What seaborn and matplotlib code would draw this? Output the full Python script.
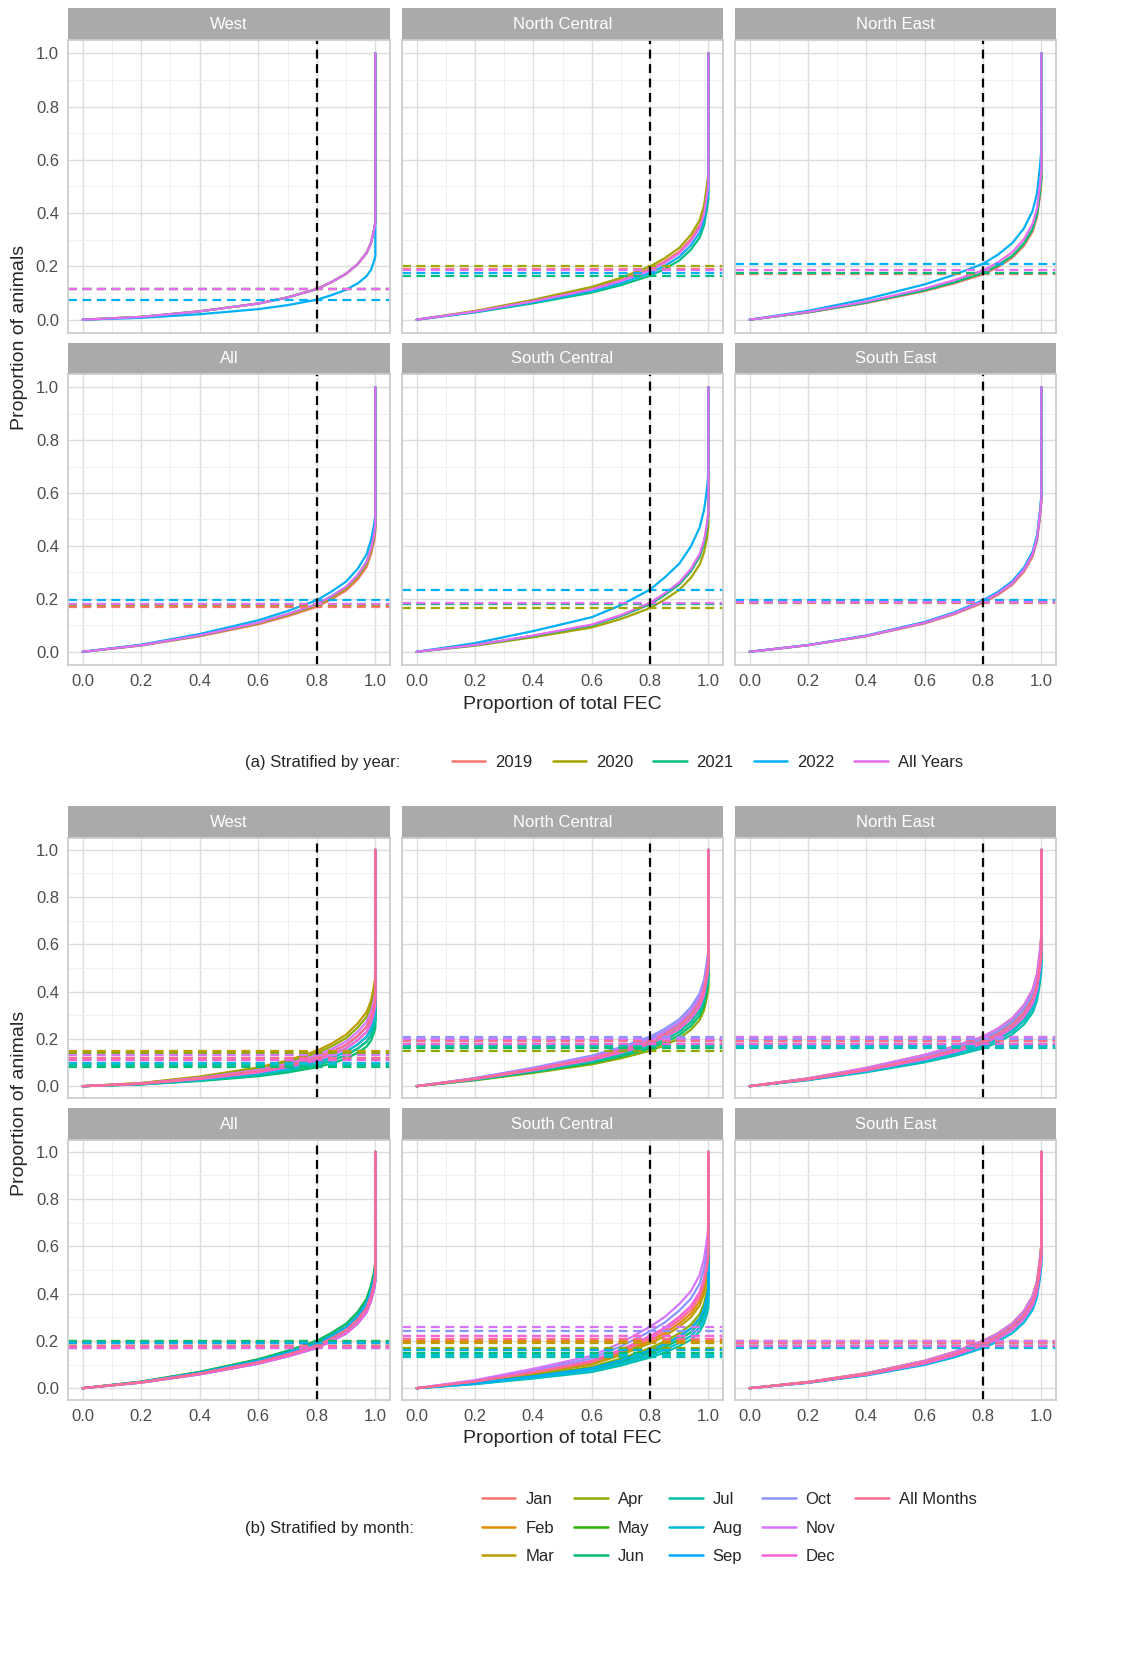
import numpy as np
import pandas as pd
import matplotlib
matplotlib.use("Agg")
import matplotlib.pyplot as plt
import seaborn as sns
from matplotlib.lines import Line2D

sns.set_theme(style="white")
plt.rcParams["font.family"] = ["Liberation Sans", "DejaVu Sans"]

PANELS = ["West", "North Central", "North East", "All", "South Central", "South East"]
X_PTS = [0.0, 0.2, 0.4, 0.6, 0.7, 0.8, 0.85, 0.9, 0.94, 0.97, 0.985, 0.995, 1.0]

# base curves (y at X_PTS), per panel
BASE_YEAR = {
    "West":          [0, 0.010, 0.030, 0.058, 0.080, 0.110, 0.135, 0.165, 0.200, 0.240, 0.275, 0.320, 0.350],
    "North Central": [0, 0.030, 0.068, 0.112, 0.143, 0.182, 0.210, 0.245, 0.290, 0.340, 0.390, 0.460, 0.500],
    "North East":    [0, 0.030, 0.070, 0.120, 0.152, 0.190, 0.220, 0.260, 0.310, 0.370, 0.430, 0.520, 0.580],
    "All":           [0, 0.025, 0.062, 0.110, 0.142, 0.180, 0.210, 0.245, 0.290, 0.340, 0.390, 0.440, 0.480],
    "South Central": [0, 0.025, 0.060, 0.100, 0.135, 0.180, 0.215, 0.255, 0.305, 0.360, 0.410, 0.470, 0.520],
    "South East":    [0, 0.025, 0.060, 0.110, 0.145, 0.190, 0.220, 0.260, 0.310, 0.370, 0.430, 0.520, 0.580],
}
BASE_MONTH = {
    "West":          [0, 0.010, 0.030, 0.058, 0.080, 0.110, 0.132, 0.160, 0.195, 0.230, 0.265, 0.310, 0.340],
    "North Central": [0, 0.030, 0.068, 0.112, 0.143, 0.182, 0.210, 0.245, 0.290, 0.340, 0.390, 0.460, 0.500],
    "North East":    [0, 0.030, 0.070, 0.120, 0.152, 0.190, 0.220, 0.260, 0.310, 0.370, 0.430, 0.520, 0.580],
    "All":           [0, 0.025, 0.062, 0.110, 0.142, 0.180, 0.210, 0.245, 0.290, 0.340, 0.390, 0.440, 0.480],
    "South Central": [0, 0.025, 0.060, 0.100, 0.140, 0.190, 0.220, 0.260, 0.300, 0.350, 0.400, 0.460, 0.500],
    "South East":    [0, 0.025, 0.060, 0.110, 0.145, 0.190, 0.220, 0.260, 0.310, 0.370, 0.430, 0.520, 0.580],
}

YEARS = ["2019", "2020", "2021", "2022", "All Years"]
YEAR_COLORS = ["#F8766D", "#A3A500", "#00BF7D", "#00B0F6", "#E76BF3"]
# dashed line levels (proportion of animals at 80% FEC)
YEAR_THR = {
    "West":          [0.115, 0.115, 0.115, 0.075, 0.115],
    "North Central": [0.190, 0.200, 0.165, 0.175, 0.185],
    "North East":    [0.170, 0.175, 0.175, 0.210, 0.185],
    "All":           [0.170, 0.175, 0.180, 0.195, 0.180],
    "South Central": [0.180, 0.165, 0.180, 0.235, 0.185],
    "South East":    [0.185, 0.190, 0.190, 0.195, 0.190],
}

MONTHS = ["Jan", "Feb", "Mar", "Apr", "May", "Jun", "Jul", "Aug", "Sep",
          "Oct", "Nov", "Dec", "All Months"]
MONTH_COLORS = ["#F8766D", "#E18A00", "#BE9C00", "#8CAB00", "#24B700", "#00BE70",
                "#00C1AB", "#00BBDA", "#00ACFC", "#8B93FF", "#D575FE", "#F962DD", "#FF6C91"]
MONTH_THR = {
    "West":          [0.10, 0.12, 0.15, 0.14, 0.09, 0.08, 0.09, 0.10, 0.11, 0.12, 0.13, 0.11, 0.12],
    "North Central": [0.19, 0.20, 0.17, 0.15, 0.18, 0.16, 0.17, 0.19, 0.20, 0.21, 0.20, 0.18, 0.19],
    "North East":    [0.19, 0.21, 0.20, 0.18, 0.17, 0.18, 0.16, 0.17, 0.19, 0.20, 0.21, 0.18, 0.19],
    "All":           [0.18, 0.19, 0.20, 0.19, 0.18, 0.20, 0.17, 0.18, 0.19, 0.17, 0.18, 0.17, 0.18],
    "South Central": [0.22, 0.20, 0.19, 0.17, 0.16, 0.15, 0.13, 0.14, 0.16, 0.24, 0.26, 0.22, 0.21],
    "South East":    [0.19, 0.20, 0.20, 0.19, 0.18, 0.19, 0.18, 0.17, 0.18, 0.19, 0.20, 0.18, 0.19],
}

W, H = 1133, 1676
fig = plt.figure(figsize=(W / 100, H / 100), dpi=100)


def rect(l, t, r, b):
    return [l / W, 1 - b / H, (r - l) / W, (b - t) / H]


COLS = [(68, 390), (402, 723), (735, 1056)]


def build_df(base, thr, groups):
    rows = []
    for p in PANELS:
        b = np.array(base[p])
        scale = np.array(thr[p]) / b[5]
        for g, s in zip(groups, scale):
            ys = list(b * s) + [1.0]
            xs = X_PTS + [1.0]
            for x, y in zip(xs, ys):
                rows.append((p, g, x, y))
    return pd.DataFrame(rows, columns=["panel", "group", "x", "y"])


def draw_block(df, thr, groups, colors, rows_px):
    for i, p in enumerate(PANELS):
        r, c = divmod(i, 3)
        st, pt, pb = rows_px[r]
        l, rr = COLS[c]
        sax = fig.add_axes(rect(l, st, rr, pt))
        sax.set_facecolor("#AAAAAA")
        sax.set_xticks([]); sax.set_yticks([])
        for s in sax.spines.values():
            s.set_visible(False)
        sax.text(0.5, 0.5, p, color="white", ha="center", va="center", fontsize=12)
        ax = fig.add_axes(rect(l, pt, rr, pb))
        ax.set_xlim(-0.05, 1.05); ax.set_ylim(-0.05, 1.05)
        ax.set_xticks(np.arange(0, 1.01, 0.2)); ax.set_yticks(np.arange(0, 1.01, 0.2))
        ax.set_xticks(np.arange(0.1, 1.0, 0.2), minor=True)
        ax.set_yticks(np.arange(0.1, 1.0, 0.2), minor=True)
        ax.grid(True, which="major", color="#DDDDDD", lw=1)
        ax.grid(True, which="minor", color="#EEEEEE", lw=0.6)
        ax.set_axisbelow(True)
        for s in ax.spines.values():
            s.set_color("#CCCCCC")
        ax.tick_params(colors="#4D4D4D", labelsize=12, length=3, color="#4D4D4D")
        if r == 0:
            ax.set_xticklabels([])
        else:
            ax.set_xticklabels([f"{v:.1f}" for v in np.arange(0, 1.01, 0.2)])
        if c == 0:
            ax.set_yticklabels([f"{v:.1f}" for v in np.arange(0, 1.01, 0.2)])
        else:
            ax.set_yticklabels([])
        sub = df[df.panel == p]
        sns.lineplot(data=sub, x="x", y="y", hue="group", hue_order=groups,
                     palette=colors, estimator=None, sort=False, legend=False,
                     ax=ax, lw=1.6)
        for g, col, t in zip(groups, colors, thr[p]):
            ax.axhline(t, color=col, ls=(0, (4, 2.5)), lw=1.6)
        ax.axvline(0.8, color="black", ls=(0, (4, 2.5)), lw=1.6)
        ax.set_xlabel(""); ax.set_ylabel("")


# block (a)
rows_a = [(8, 40, 333), (343, 374, 665)]
draw_block(build_df(BASE_YEAR, YEAR_THR, YEARS), YEAR_THR, YEARS, YEAR_COLORS, rows_a)
fig.text(562 / W, 1 - 704 / H, "Proportion of total FEC", ha="center", va="center", fontsize=14)
fig.text(20 / W, 1 - 337 / H, "Proportion of animals", rotation=90, ha="center", va="center", fontsize=14)
fig.text(245 / W, 1 - 762 / H, "(a) Stratified by year:", ha="left", va="center", fontsize=12)
h = [Line2D([], [], color=c, lw=1.8) for c in YEAR_COLORS]
fig.legend(h, YEARS, loc="center left", bbox_to_anchor=(452 / W, 1 - 762 / H), ncol=5,
           frameon=False, fontsize=12, handlelength=2, columnspacing=1.2, handletextpad=0.6,
           borderaxespad=0, borderpad=0)

# block (b)
rows_b = [(806, 838, 1098), (1108, 1140, 1400)]
draw_block(build_df(BASE_MONTH, MONTH_THR, MONTHS), MONTH_THR, MONTHS, MONTH_COLORS, rows_b)
fig.text(562 / W, 1 - 1438 / H, "Proportion of total FEC", ha="center", va="center", fontsize=14)
fig.text(20 / W, 1 - 1103 / H, "Proportion of animals", rotation=90, ha="center", va="center", fontsize=14)
fig.text(245 / W, 1 - 1528 / H, "(b) Stratified by month:", ha="left", va="center", fontsize=12)
h = [Line2D([], [], color=c, lw=1.8) for c in MONTH_COLORS]
h += [Line2D([], [], color="none")] * 2
fig.legend(h, MONTHS + ["", ""], loc="center left", bbox_to_anchor=(482 / W, 1 - 1528 / H), ncol=5,
           frameon=False, fontsize=12, handlelength=2, columnspacing=1.2, handletextpad=0.6,
           labelspacing=0.8, borderaxespad=0, borderpad=0)

fig.savefig("out.png", dpi=100)
